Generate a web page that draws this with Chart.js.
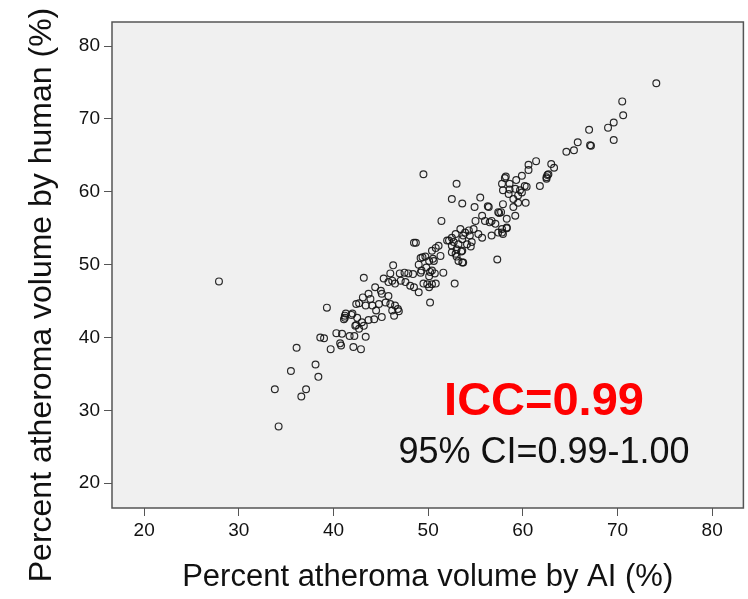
<!DOCTYPE html>
<html>
<head>
<meta charset="utf-8">
<title>AI vs human percent atheroma volume</title>
<script src="https://cdn.jsdelivr.net/npm/chart.js@4.4.1/dist/chart.umd.min.js"></script>
<style>
    body { margin: 0; background: #ffffff; }
    #wrap { width: 748px; height: 599px; }
</style>
</head>
<body>
<div id="wrap"><canvas id="iccChart" width="748" height="599"></canvas></div>
<script>
// ===========================
// DATA
// ===========================

// Percent atheroma volume by AI (%)
const aiVolume = [
    27.9, 34.2, 33.8, 36.6, 37.1, 35.5, 38.1, 38.4, 36.1, 39.3,
    38.6, 39.0, 39.7, 40.3, 40.9, 40.7, 40.8, 41.2, 41.2, 41.9,
    42.4, 41.7, 42.2, 42.1, 42.4, 43.2, 42.9, 41.3, 42.0, 41.1,
    42.5, 43.0, 43.2, 43.7, 44.3, 45.1, 46.2, 46.9, 43.4, 42.3,
    42.7, 44.4, 45.0, 45.1, 45.8, 45.5, 46.0, 46.5, 46.8, 46.4,
    43.7, 43.9, 43.1, 42.7, 43.4, 44.1, 44.5, 44.8, 45.3, 45.8,
    46.2, 46.5, 47.1, 47.6, 48.1, 48.5, 49.0, 49.5, 49.9, 50.4,
    50.8, 50.1, 46.3, 46.0, 47.0, 47.5, 47.9, 48.4, 49.0, 49.2,
    49.7, 50.1, 50.5, 49.3, 49.8, 50.2, 50.7, 51.6, 52.8, 50.2,
    48.7, 48.5, 50.8, 51.3, 51.1, 52.0, 52.5, 53.0, 53.5, 54.1,
    54.5, 52.9, 53.2, 53.7, 49.5, 58.2, 58.1, 53.0, 52.5, 53.6,
    55.5, 54.9, 56.3, 51.4, 57.4, 59.2, 58.3, 57.3, 57.8, 57.9,
    58.6, 59.2, 59.5, 59.9, 60.2, 58.5, 59.0, 59.5, 60.3, 61.8,
    62.5, 62.7, 74.1, 70.5, 70.6, 69.6, 69.0, 69.6, 67.0, 67.2,
    67.1, 65.8, 65.4, 64.6, 61.4, 60.6, 60.6, 63.0, 63.3, 62.6,
    62.5, 59.9, 60.4, 59.3, 59.0, 57.7, 58.3, 57.8, 57.5, 56.4,
    56.7, 58.6, 59.7, 57.9, 55.7, 56.0, 56.5, 57.1, 57.8, 57.4,
    58.3, 57.9, 56.7, 55.7, 55.0, 54.8, 54.3, 53.9, 53.4, 53.7,
    52.9, 52.5, 52.2, 52.7, 53.2, 53.6, 54.4, 54.6, 55.3, 50.4,
    50.6, 49.4, 49.2, 50.4, 50.1, 52.5, 53.0, 53.6, 53.6
];

// Percent atheroma volume by human (%)
const humanVolume = [
    47.7, 27.8, 32.9, 31.9, 32.9, 35.4, 36.3, 34.6, 38.6, 44.1,
    40.0, 39.9, 38.4, 40.6, 40.5, 39.2, 38.9, 43.0, 42.7, 43.1,
    44.6, 40.2, 40.2, 38.7, 41.7, 48.2, 38.4, 43.3, 43.3, 42.5,
    42.7, 42.1, 41.6, 42.4, 42.5, 42.8, 43.7, 43.6, 40.1, 41.6,
    41.2, 46.9, 46.4, 46.0, 45.7, 44.8, 44.6, 44.4, 43.9, 43.0,
    46.0, 45.3, 45.5, 44.7, 44.4, 44.4, 43.7, 44.6, 48.1, 47.6,
    47.8, 47.4, 47.8, 47.6, 47.1, 46.9, 46.2, 47.4, 47.3, 47.3,
    47.4, 46.9, 49.9, 48.8, 48.8, 48.9, 48.8, 48.7, 50.0, 50.9,
    51.1, 50.5, 50.8, 49.2, 49.6, 49.0, 48.8, 48.9, 47.4, 44.8,
    53.0, 53.0, 52.3, 51.2, 52.6, 53.3, 52.6, 52.1, 51.8, 52.8,
    52.5, 51.5, 50.5, 50.3, 62.4, 62.1, 61.9, 61.1, 59.0, 58.4,
    59.2, 57.9, 58.0, 56.0, 57.2, 56.7, 56.3, 50.7, 61.1, 60.2,
    61.1, 60.4, 59.5, 59.9, 60.8, 59.7, 59.0, 58.5, 58.5, 60.8,
    62.0, 62.4, 74.9, 72.4, 70.5, 69.5, 68.8, 67.1, 68.5, 66.3,
    66.4, 66.8, 65.7, 65.5, 64.2, 63.7, 63.0, 63.8, 63.3, 62.3,
    61.8, 62.2, 60.7, 61.6, 57.9, 57.2, 55.1, 54.4, 57.1, 57.9,
    56.0, 60.3, 60.2, 58.3, 56.7, 56.0, 55.8, 55.6, 54.9, 54.4,
    55.0, 54.2, 54.0, 53.7, 56.0, 54.9, 54.7, 54.4, 54.9, 54.0,
    54.2, 53.7, 53.3, 53.1, 52.8, 53.5, 54.0, 53.1, 54.2, 51.9,
    50.5, 51.0, 48.9, 49.2, 48.4, 51.7, 51.1, 51.9, 50.3
];

// Axis ticks (both axes)
const xTickValues = [20, 30, 40, 50, 60, 70, 80];
const yTickValues = [20, 30, 40, 50, 60, 70, 80];

const xAxisTitle = 'Percent atheroma volume by AI (%)';
const yAxisTitle = 'Percent atheroma volume by human (%)';
const iccText = 'ICC=0.99';
const ciText = '95% CI=0.99-1.00';

const FONT = '"Liberation Sans", Arial, sans-serif';

// Build scatter points from the two series
function getPoints() {
    return aiVolume.map((x, i) => ({ x: x, y: humanVolume[i] }));
}

// Grey plot panel + frame, y title and ICC annotation
const panelPlugin = {
    id: 'panel',
    beforeDraw(chart) {
        const { ctx, chartArea: a } = chart;
        ctx.save();
        ctx.fillStyle = '#ffffff';
        ctx.fillRect(0, 0, chart.width, chart.height);
        ctx.fillStyle = '#f0f0f0';
        ctx.fillRect(a.left, a.top, a.right - a.left, a.bottom - a.top);
        ctx.restore();
    },
    afterDraw(chart) {
        const { ctx, chartArea: a } = chart;
        ctx.save();
        // frame round the plot
        ctx.strokeStyle = '#555555';
        ctx.lineWidth = 1.5;
        ctx.strokeRect(a.left, a.top, a.right - a.left, a.bottom - a.top);

        // y axis title (sits lower than the panel centre in the original)
        ctx.translate(42, 295);
        ctx.rotate(-Math.PI / 2);
        ctx.fillStyle = '#111111';
        ctx.font = '32px ' + FONT;
        ctx.textAlign = 'center';
        ctx.textBaseline = 'middle';
        ctx.fillText(yAxisTitle, 0, 0);
        ctx.restore();

        // ICC annotation
        ctx.save();
        ctx.textAlign = 'center';
        ctx.textBaseline = 'alphabetic';
        ctx.fillStyle = '#ff0000';
        ctx.font = 'bold 47px ' + FONT;
        ctx.fillText(iccText, 544, 415);
        ctx.fillStyle = '#111111';
        ctx.font = '36px ' + FONT;
        ctx.fillText(ciText, 544, 463);
        ctx.restore();
    }
};

function initScatterChart() {
    const ctx = document.getElementById('iccChart');
    if (!ctx) return;

    new Chart(ctx, {
        type: 'scatter',
        data: {
            datasets: [{
                data: getPoints(),
                pointRadius: 3.4,
                pointHoverRadius: 3.4,
                pointBorderWidth: 1.2,
                pointBorderColor: 'rgba(20, 20, 20, 0.9)',
                pointBackgroundColor: 'rgba(0, 0, 0, 0)'
            }]
        },
        options: {
            responsive: false,
            animation: false,
            layout: {
                padding: { top: 22, right: 3, left: 0, bottom: 0 }
            },
            plugins: {
                legend: { display: false },
                tooltip: { enabled: false }
            },
            scales: {
                x: {
                    type: 'linear',
                    min: 16.6,
                    max: 83.3,
                    afterBuildTicks: scale => {
                        scale.ticks = xTickValues.map(v => ({ value: v }));
                    },
                    afterFit: scale => { scale.height = 91; },
                    grid: {
                        drawOnChartArea: false,
                        tickLength: 8,
                        tickColor: '#555555'
                    },
                    border: { display: false },
                    ticks: {
                        color: '#111111',
                        padding: 3,
                        maxRotation: 0,
                        font: { family: FONT, size: 19 }
                    },
                    title: {
                        display: true,
                        text: xAxisTitle,
                        color: '#111111',
                        padding: { top: 0, bottom: 3 },
                        font: { family: FONT, size: 31 }
                    }
                },
                y: {
                    type: 'linear',
                    min: 16.6,
                    max: 83.3,
                    afterBuildTicks: scale => {
                        scale.ticks = yTickValues.map(v => ({ value: v }));
                    },
                    afterFit: scale => { scale.width = 112; },
                    grid: {
                        drawOnChartArea: false,
                        tickLength: 8,
                        tickColor: '#555555'
                    },
                    border: { display: false },
                    ticks: {
                        color: '#111111',
                        padding: 4,
                        font: { family: FONT, size: 19 }
                    }
                }
            }
        },
        plugins: [panelPlugin]
    });
}

document.addEventListener('DOMContentLoaded', function() {
    initScatterChart();
});
</script>
</body>
</html>
